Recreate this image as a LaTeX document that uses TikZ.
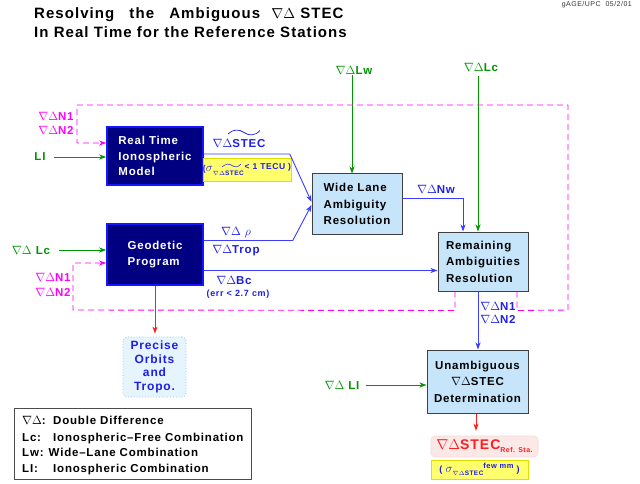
\documentclass[tikz,border=0pt]{standalone}
\usepackage{amsmath}
\usepackage[no-math]{fontspec}
\setmainfont{Liberation Sans}[LetterSpace=7]
\usetikzlibrary{arrows.meta}
\definecolor{navy}{RGB}{0,0,128}
\definecolor{bborder}{RGB}{20,20,255}
\definecolor{lblue}{RGB}{198,228,250}
\definecolor{tblue}{RGB}{30,30,230}
\definecolor{lineblue}{RGB}{60,60,255}
\definecolor{dgreen}{RGB}{0,150,0}
\definecolor{mag}{RGB}{255,0,255}
\definecolor{rred}{RGB}{255,30,30}
\definecolor{yel}{RGB}{255,255,110}
\definecolor{yelb}{RGB}{225,225,0}
\definecolor{pinkf}{RGB}{253,232,232}
\definecolor{pinkb}{RGB}{250,215,215}
\definecolor{precf}{RGB}{230,244,253}
\definecolor{precb}{RGB}{140,195,240}
\newcommand\sigsub[1]{{\fontsize{13}{13}\selectfont$\sigma$}\raisebox{-3.5pt}{\fontsize{6.5}{6.5}\selectfont #1}}
\tikzset{
  navybox/.style={draw=bborder, line width=1.6pt, fill=navy, text=white, font=\fontsize{11.5}{15.5}\selectfont\bfseries, align=left, inner sep=0pt},
  lbbox/.style={draw=black!75, line width=1pt, fill=lblue, font=\fontsize{11.5}{16.5}\selectfont\bfseries, align=left, inner sep=0pt},
  precbox/.style={draw=precb, dotted, line width=0.8pt, fill=precf, rounded corners=4pt, text=tblue, font=\fontsize{12}{13.5}\selectfont\bfseries, align=center, inner sep=0pt},
  ybox/.style={draw=yelb, line width=0.8pt, fill=yel, text=tblue, font=\fontsize{9}{10}\selectfont\bfseries, inner sep=0pt},
  outbox/.style={draw=pinkb, line width=0.6pt, fill=pinkf, rounded corners=4pt, text=rred, font=\fontsize{14}{16}\selectfont\bfseries, inner sep=0pt},
  lab/.style={font=\fontsize{11.5}{13}\selectfont\bfseries, inner sep=1pt, align=left},
  smalllab/.style={font=\fontsize{9}{10}\selectfont\bfseries, inner sep=1pt},
  legtext/.style={font=\fontsize{11.5}{13}\selectfont\bfseries, inner sep=0pt, anchor=base west},
  arr/.style={-{Stealth[length=7pt,width=5pt,inset=2pt]}, line width=0.9pt},
  bl/.style={arr, draw=lineblue},
  gl/.style={arr, draw=dgreen},
  rl/.style={arr, draw=rred},
  ml/.style={arr, draw=mag, dash pattern=on 6pt off 4pt},
  tildeline/.style={draw=tblue, line width=0.7pt},
}
\begin{document}
\begin{tikzpicture}[x=1pt,y=-1pt]
\useasboundingbox (0,0) rectangle (640,484);
\fill[white] (0,0) rectangle (640,484);

% title
\node[anchor=base west, font=\fontsize{15}{18}\selectfont\bfseries, inner sep=0pt] (t1) at (34,19) {Resolving\hspace{10pt} the\hspace{10pt} Ambiguous\hspace{6pt} $\nabla\Delta$ STEC};
\node[anchor=base west, font=\fontsize{15}{18}\selectfont\bfseries, inner sep=0pt] (t2) at (34,37.5) {In Real Time for the Reference Stations};
\node[anchor=north east, font=\fontsize{7}{8}\selectfont, text=black!80, inner sep=0pt] (date) at (632,1) {gAGE/UPC\ \ 05/2/01};

% boxes
\node[navybox, minimum width=96pt, minimum height=58pt] (rtim) at (155,156) {Real Time\\Ionospheric\\Model};
\node[navybox, minimum width=96pt, minimum height=61pt] (geo) at (155,254.5) {Geodetic\\Program};
\node[lbbox, minimum width=90pt, minimum height=60pt] (wl) at (357,204) {Wide Lane\\Ambiguity\\Resolution};
\node[lbbox, minimum width=90pt, minimum height=59pt] (rem) at (483,261.5) {Remaining\\Ambiguities\\Resolution};
\node[lbbox, align=center, minimum width=101pt, minimum height=63pt] (una) at (477.5,381.5) {Unambiguous\\$\nabla\Delta$STEC\\Determination};
\node[precbox, minimum width=63pt, minimum height=60pt] (prec) at (154.5,367) {Precise\\Orbits\\and\\Tropo.};
\node[outbox, minimum width=107pt, minimum height=21pt] (out) at (484.5,446.5) {$\nabla\Delta$STEC\raisebox{-3pt}{\fontsize{7}{7}\selectfont Ref. Sta.}};
\node[ybox, minimum width=97pt, minimum height=19pt] (y2) at (479.5,469.5) {(\ \sigsub{$\nabla\Delta$STEC}\raisebox{4pt}{\fontsize{7.5}{7.5}\selectfont few mm}\ )};
\node[ybox, font=\fontsize{8.5}{10}\selectfont\bfseries, minimum width=84pt, minimum height=23pt] (y1) at (247,169.5) {(\sigsub{$\nabla\Delta$STEC}\hspace{1pt}\raisebox{2pt}{< 1 TECU )}};
\draw[tildeline, line width=0.5pt] (222,167) .. controls (226,163.5) and (229,163.5) .. (232,165.5) .. controls (235,167.5) and (238,167.5) .. (241,164);

% labels
\node[lab, text=tblue] (lstec) at (239,143) {$\nabla\Delta$STEC};
\draw[tildeline] (228,134) .. controls (233,129) and (239,129) .. (244,132.5) .. controls (249,136) and (255,136) .. (260,130.5);
\node[lab, text=tblue] (lrho) at (236,233) {$\nabla\Delta\ \rho$};
\node[lab, text=tblue] (ltrop) at (236,251) {$\nabla\Delta$Trop};
\node[lab, text=tblue] (lbc) at (234,280) {$\nabla\Delta$Bc};
\node[smalllab, text=tblue] (lerr) at (238,294) {(err < 2.7 cm)};
\node[lab, text=tblue] (lnw) at (436,189) {$\nabla\Delta$Nw};
\node[lab, text=tblue, font=\fontsize{11.5}{12.5}\selectfont\bfseries] (ln12) at (498,313) {$\nabla\Delta$N1\\$\nabla\Delta$N2};
\node[lab, text=mag, font=\fontsize{11.5}{14}\selectfont\bfseries] (mn1) at (56,123) {$\nabla\Delta$N1\\$\nabla\Delta$N2};
\node[lab, text=mag, font=\fontsize{11.5}{15}\selectfont\bfseries] (mn2) at (53,284.5) {$\nabla\Delta$N1\\$\nabla\Delta$N2};
\node[lab, text=dgreen] (lw) at (354,70) {$\nabla\Delta$Lw};
\node[lab, text=dgreen] (lc) at (481,67) {$\nabla\Delta$Lc};
\node[lab, text=dgreen] (li) at (40,157) {LI};
\node[lab, text=dgreen] (lcg) at (31,250) {$\nabla\Delta$ Lc};
\node[lab, text=dgreen] (lil) at (342,385) {$\nabla\Delta$ LI};

% connectors
\draw[bl] ([yshift=2pt]rtim.east) -- ++(86,0) -- ([yshift=2pt]wl.west);
\draw[bl] ([yshift=14pt]geo.east) -- ++(89,0) -- ([yshift=-1pt]wl.west);
\coordinate (bc) at ([yshift=-16pt]geo.east);
\draw[bl] (bc) -- (bc -| rem.west);
\coordinate (nw) at ([yshift=6pt]wl.east);
\draw[bl] (nw) -| ([xshift=-20pt]rem.north);
\coordinate (lwt) at ([xshift=-2pt]lw.south);
\draw[gl] (lwt) -- (lwt |- wl.north);
\coordinate (lct) at ([xshift=-3pt]lc.south);
\draw[gl] ([yshift=-4pt]lct) -- (lct |- rem.north);
\draw[gl] ([xshift=7pt]li.east) -- (li -| rtim.west);
\draw[gl] ([xshift=8pt]lcg.east) -- (lcg -| geo.west);
\draw[gl] ([xshift=5pt]lil.east) -- (lil -| una.west);
\coordinate (rs) at ([xshift=-5pt]rem.south);
\draw[bl] (rs) -- (rs |- una.north);
\coordinate (us) at ([xshift=-1.5pt]una.south);
\draw[rl, shorten >=5pt] (us) -- (us |- out.north);
\draw[rl, shorten >=3pt] (geo.south) -- (geo.south |- prec.north);

% magenta feedback loops
\coordinate (ma) at (77,143);
\draw[ml] ([xshift=34pt]rem.south) -- ++(0,19) -- (568,310) -- (568,105) -- (77,105) -- (ma) -- (ma -| rtim.west);
\coordinate (mb) at (73,263);
\draw[ml] ([xshift=-28pt]rem.south) -- ++(0,19) -- (73,310) -- (mb) -- (mb -| geo.west);

% legend
\node[draw=black!70, line width=0.8pt, minimum width=237pt, minimum height=71pt, inner sep=0pt] (leg) at (132.5,443.5) {};
\node[legtext] (k1) at (22,424) {$\nabla\Delta$:};
\node[legtext] (d1) at (53,424) {Double Difference};
\node[legtext] (k2) at (22,441) {Lc:};
\node[legtext] (d2) at (53,441) {Ionospheric\textendash Free Combination};
\node[legtext] (k3) at (22,456) {Lw:};
\node[legtext] (d3) at (48.5,456) {Wide\textendash Lane Combination};
\node[legtext] (k4) at (22,472) {LI:};
\node[legtext] (d4) at (53,472) {Ionospheric Combination};
\end{tikzpicture}
\end{document}
